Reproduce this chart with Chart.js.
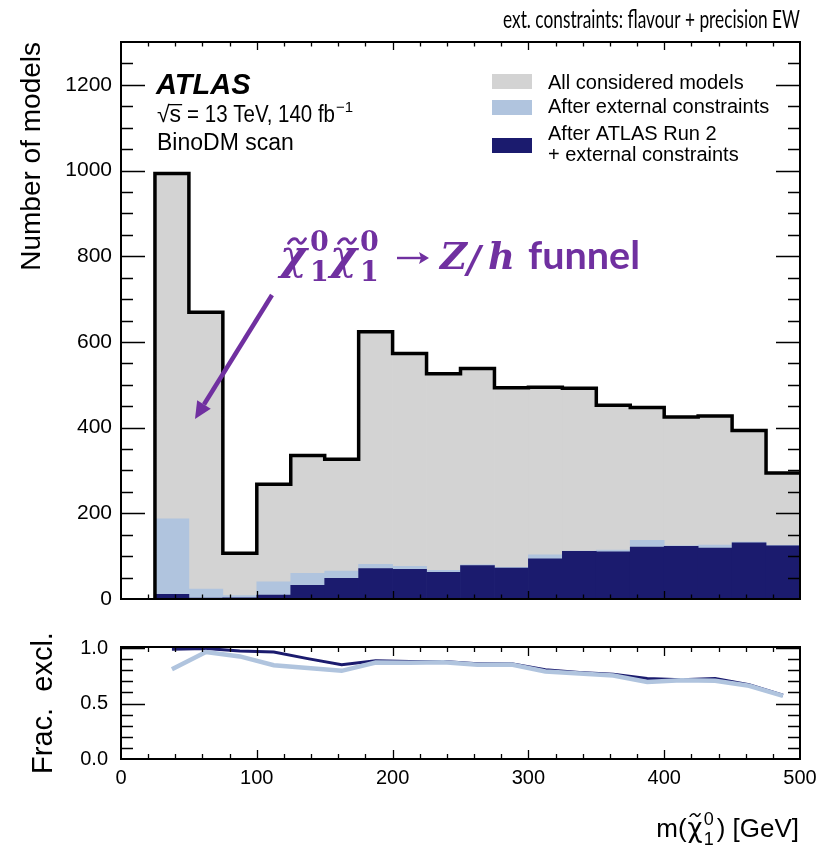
<!DOCTYPE html>
<html>
<head>
<meta charset="utf-8">
<script src="https://cdn.jsdelivr.net/npm/chart.js@4.4.1/dist/chart.umd.min.js"></script>
<style>
  html, body { margin: 0; padding: 0; background: #fff; }
  #wrap { position: relative; width: 823px; height: 849px; }
  #mainBox { position: absolute; left: 0; top: 0; width: 823px; height: 615px; }
  #ratioBox { position: absolute; left: 0; top: 615px; width: 823px; height: 234px; }
</style>
</head>
<body>
<div id="wrap">
  <div id="mainBox"><canvas id="main"></canvas></div>
  <div id="ratioBox"><canvas id="ratio"></canvas></div>
</div>
<script>
// Histogram bins: lower edges of the neutralino-mass bins [GeV]
const binLow = [25, 50, 75, 100, 125, 150, 175, 200, 225, 250, 275, 300, 325, 350, 375, 400, 425, 450, 475];
const binWidth = 25;

// Number of models per bin
const allModels     = [993, 669, 107, 268, 335, 326, 624, 573, 526, 538, 493, 494, 492, 452, 447, 425, 427, 393, 294];
const afterExternal = [187, 23, 8, 40, 60, 65, 81, 76, 67, 80, 74, 103, 112, 114, 137, 124, 126, 133, 125];
const afterRun2     = [11, 2, 3, 9, 32, 48, 71, 69, 62, 78, 72, 94, 111, 110, 121, 123, 119, 131, 124];

// Fraction of models excluded, per bin
const fracExclExternal = [0.81, 0.965, 0.925, 0.845, 0.82, 0.795, 0.87, 0.867, 0.872, 0.85, 0.852, 0.79, 0.772, 0.752, 0.695, 0.71, 0.705, 0.66, 0.57];
const fracExclRun2     = [0.99, 0.997, 0.975, 0.965, 0.905, 0.85, 0.885, 0.88, 0.88, 0.86, 0.86, 0.805, 0.78, 0.765, 0.725, 0.715, 0.725, 0.67, 0.575];

// Axis tick labels
const xTickValues = [0, 100, 200, 300, 400, 500];
const yTickValues = [0, 200, 400, 600, 800, 1000, 1200];
const ratioTickValues = [0, 0.5, 1.0];

const legendLabels = ['All considered models', 'After external constraints', 'After ATLAS Run 2', '+ external constraints'];

const COL_ALL = '#d3d3d3';
const COL_EXT = '#b0c4de';
const COL_RUN2 = '#1b1b6e';
const PURPLE = '#7030a0';
const SANS = '"Liberation Sans", Arial, Helvetica, sans-serif';
const HUMANIST = 'Lato, "Open Sans", sans-serif';
const SERIF = '"DejaVu Serif", serif';

// Wanted plot-area bottoms (canvas pixels) for the two panels
const MAIN_BOTTOM = 599;
const RATIO_BOTTOM = 144;
let mainAxisH = 16;
let ratioAxisH = 90;

const centers = binLow.map(v => v + binWidth / 2);
const asBars = vals => vals.map((v, i) => ({ x: centers[i], y: v }));
const last = binLow.length - 1;
const outline = [{ x: binLow[0], y: 0 }]
  .concat(allModels.map((v, i) => ({ x: binLow[i], y: v })))
  .concat([{ x: binLow[last] + binWidth, y: allModels[last] }]);

// Keeps tick labels from pushing the plot area around
function noScalePadding(s) {
  s.paddingTop = 0; s.paddingBottom = 0; s.paddingLeft = 0; s.paddingRight = 0;
}

// Frame with inward-pointing ticks on all four sides
function drawFrame(chart, spec) {
  const { ctx, chartArea: a } = chart;
  const xs = chart.scales.x, ys = chart.scales.y;
  ctx.save();
  ctx.strokeStyle = '#000';
  ctx.lineWidth = 1.3;
  ctx.beginPath();
  const nY = Math.round(spec.yMax / spec.yMinor);
  for (let k = 1; k <= nY; k++) {
    const v = k * spec.yMinor;
    if (v >= ys.max - 1e-9) break;
    const p = Math.round(ys.getPixelForValue(v)) + 0.5;
    const major = k % spec.yPerMajor === 0;
    const len = major ? spec.yMajorLen : spec.yMinorLen;
    ctx.moveTo(a.left, p); ctx.lineTo(a.left + len, p);
    ctx.moveTo(a.right, p); ctx.lineTo(a.right - len, p);
  }
  for (let k = 1; k < 25; k++) {
    const v = k * 20;
    const p = Math.round(xs.getPixelForValue(v)) + 0.5;
    const len = (v % 100 === 0) ? spec.xMajorLen : spec.xMinorLen;
    ctx.moveTo(p, a.bottom); ctx.lineTo(p, a.bottom - len);
    ctx.moveTo(p, a.top); ctx.lineTo(p, a.top + len);
  }
  ctx.stroke();
  ctx.lineWidth = 2;
  ctx.strokeRect(a.left, a.top, a.right - a.left, a.bottom - a.top);
  ctx.restore();
}

// Draws text squeezed/stretched horizontally to a given width
function fitText(ctx, text, x, y, width, align) {
  const w = ctx.measureText(text).width;
  const s = width / w;
  ctx.save();
  const x0 = align === 'right' ? x - width : x;
  ctx.translate(x0, y);
  ctx.scale(s, 1);
  ctx.textAlign = 'left';
  ctx.fillText(text, 0, 0);
  ctx.restore();
}

function tilde(ctx, cx, cy, w, h, lw) {
  ctx.save();
  ctx.lineWidth = lw;
  ctx.lineCap = 'round';
  ctx.beginPath();
  ctx.moveTo(cx - w / 2, cy + h / 2);
  ctx.bezierCurveTo(cx - w / 4, cy - h, cx, cy - h / 2, cx + w * 0.05, cy);
  ctx.bezierCurveTo(cx + w / 5, cy + h * 0.9, cx + w / 3, cy + h / 2, cx + w / 2, cy - h / 2);
  ctx.stroke();
  ctx.restore();
}

const mainDecor = {
  id: 'mainDecor',
  afterDraw(chart) {
    const ctx = chart.ctx;
    drawFrame(chart, { yMax: 1300, yMinor: 50, yPerMajor: 4, yMajorLen: 24, yMinorLen: 12, xMajorLen: 8, xMinorLen: 4.5 });
    ctx.save();
    ctx.fillStyle = '#000';
    ctx.textBaseline = 'alphabetic';

    // Heading above the frame
    ctx.font = '25px ' + HUMANIST;
    fitText(ctx, 'ext. constraints: flavour + precision EW', 800, 28, 297, 'right');

    // Experiment label
    ctx.font = 'italic bold 29px ' + SANS;
    ctx.fillText('ATLAS', 156, 94);
    ctx.font = '23px ' + SANS;
    let x = 157;
    const b2 = 122;
    ctx.fillText('\u221A', x, b2);
    const wr = ctx.measureText('\u221A').width;
    ctx.fillText('s', x + wr, b2);
    const ws = ctx.measureText('s').width;
    ctx.fillRect(x + wr - 1, b2 - 18, ws + 2, 1.3);
    x += wr + ws + 6;
    fitText(ctx, '= 13 TeV, 140 fb', x, b2, 335 - x, 'left');
    ctx.font = '15px ' + SANS;
    ctx.fillText('\u22121', 336, b2 - 10);
    ctx.font = '23px ' + SANS;
    ctx.fillText('BinoDM scan', 157, 150);

    // Legend
    const boxes = [[74, COL_ALL], [100, COL_EXT], [138, COL_RUN2]];
    boxes.forEach(([top, col]) => { ctx.fillStyle = col; ctx.fillRect(492, top, 40, 15); });
    ctx.fillStyle = '#000';
    ctx.font = '20px ' + SANS;
    ctx.fillText(legendLabels[0], 548, 89);
    ctx.fillText(legendLabels[1], 548, 113);
    ctx.fillText(legendLabels[2], 548, 140);
    ctx.fillText(legendLabels[3], 548, 161);

    // Funnel annotation
    ctx.fillStyle = PURPLE;
    ctx.strokeStyle = PURPLE;
    const base = 269;
    [280, 330].forEach(cx => {
      ctx.font = 'italic bold 41px ' + SERIF;
      ctx.fillText('\u03C7', cx, base);
      tilde(ctx, cx + 17, 241, 17, 4.5, 2.8);
      ctx.font = 'bold 27px ' + SERIF;
      ctx.fillText('0', cx + 30, 251);
      ctx.fillText('1', cx + 30, 281);
    });
    // arrow sign
    ctx.lineWidth = 2.4;
    ctx.beginPath();
    ctx.moveTo(397, 258); ctx.lineTo(426, 258);
    ctx.stroke();
    ctx.beginPath();
    ctx.moveTo(429, 258); ctx.lineTo(419, 252); ctx.lineTo(421, 258); ctx.lineTo(419, 264);
    ctx.closePath(); ctx.fill();
    ctx.font = 'italic bold 37px ' + SERIF;
    ctx.fillText('Z', 440, base);
    ctx.fillText('/', 467, base + 3);
    ctx.fillText('h', 488, base);
    ctx.font = 'bold 39px ' + HUMANIST;
    fitText(ctx, 'funnel', 528, base, 112, 'left');

    // Arrow pointing into the funnel bins
    const x1 = 272, y1 = 295, x2 = 195, y2 = 419;
    const ang = Math.atan2(y2 - y1, x2 - x1);
    const headL = 17, headW = 8;
    const bx = x2 - headL * Math.cos(ang), by = y2 - headL * Math.sin(ang);
    ctx.lineWidth = 4.5;
    ctx.lineCap = 'butt';
    ctx.beginPath();
    ctx.moveTo(x1, y1);
    ctx.lineTo(bx, by);
    ctx.stroke();
    ctx.beginPath();
    ctx.moveTo(x2, y2);
    ctx.lineTo(bx + headW * Math.sin(ang), by - headW * Math.cos(ang));
    ctx.lineTo(bx - headW * Math.sin(ang), by + headW * Math.cos(ang));
    ctx.closePath();
    ctx.fill();
    ctx.restore();
  }
};

const ratioDecor = {
  id: 'ratioDecor',
  afterDraw(chart) {
    const ctx = chart.ctx;
    drawFrame(chart, { yMax: 1.0, yMinor: 0.1, yPerMajor: 5, yMajorLen: 24, yMinorLen: 12, xMajorLen: 9, xMinorLen: 5 });
    // x-axis title: m(chi~_1^0) [GeV]
    ctx.save();
    ctx.fillStyle = '#000';
    ctx.strokeStyle = '#000';
    const base = 222;
    const big = '26px ' + SANS, small = '18px ' + SANS, greek = '26px "DejaVu Sans", sans-serif';
    ctx.font = big;
    const wA = ctx.measureText('m(').width;
    const wB = ctx.measureText(') [GeV]').width;
    ctx.font = greek;
    const wChi = ctx.measureText('\u03C7').width;
    ctx.font = small;
    const wIdx = ctx.measureText('0').width;
    let x = 800 - (wA + wChi + wIdx + 4 + wB + 2);
    ctx.font = big;
    ctx.fillText('m(', x, base); x += wA + 1;
    ctx.font = greek;
    ctx.fillText('\u03C7', x, base);
    tilde(ctx, x + wChi / 2, base - 22, 10, 2.6, 1.5);
    x += wChi;
    ctx.font = small;
    ctx.fillText('0', x + 1, base - 12);
    ctx.fillText('1', x + 1, base + 8);
    x += wIdx + 4;
    ctx.font = big;
    ctx.fillText(') [GeV]', x, base);
    ctx.restore();
  }
};

Chart.defaults.font.family = SANS;
Chart.defaults.color = '#000';

const mainChart = new Chart(document.getElementById('main'), {
  type: 'bar',
  data: {
    datasets: [
      { type: 'line', label: 'outline', data: outline, stepped: true, borderColor: '#000', borderWidth: 3.5,
        pointRadius: 0, fill: false, order: 0, borderJoinStyle: 'miter' },
      { label: legendLabels[2] + ' ' + legendLabels[3], data: asBars(afterRun2), backgroundColor: COL_RUN2, order: 1,
        grouped: false, barPercentage: 1, categoryPercentage: 1, borderWidth: 0 },
      { label: legendLabels[1], data: asBars(afterExternal), backgroundColor: COL_EXT, order: 2,
        grouped: false, barPercentage: 1, categoryPercentage: 1, borderWidth: 0 },
      { label: legendLabels[0], data: asBars(allModels), backgroundColor: COL_ALL, order: 3,
        grouped: false, barPercentage: 1, categoryPercentage: 1, borderWidth: 0 }
    ]
  },
  options: {
    responsive: true, maintainAspectRatio: false, animation: false, devicePixelRatio: 1,
    layout: { autoPadding: false, padding: { top: 42, right: 23, bottom: 0, left: 0 } },
    plugins: { legend: { display: false }, tooltip: { enabled: false } },
    scales: {
      x: { type: 'linear', min: 0, max: 500, offset: false,
           grid: { display: false, drawTicks: false }, border: { display: false },
           ticks: { display: false },
           afterFit(s) { s.height = mainAxisH; noScalePadding(s); } },
      y: { type: 'linear', min: 0, max: 1300,
           grid: { display: false, drawTicks: false, tickLength: 0 }, border: { display: false },
           afterBuildTicks(s) { s.ticks = yTickValues.map(v => ({ value: v })); },
           ticks: { font: { size: 21 }, color: '#000', padding: 9, callback: v => String(v) },
           title: { display: true, text: 'Number of models', align: 'end', color: '#000',
                    font: { size: 28 }, padding: { top: 15, bottom: 0 } },
           afterFit(s) { s.width = 121; noScalePadding(s); } }
    }
  },
  plugins: [mainDecor]
});

const ratioChart = new Chart(document.getElementById('ratio'), {
  type: 'line',
  data: {
    datasets: [
      { label: 'After ATLAS Run 2 + external constraints', data: fracExclRun2.map((v, i) => ({ x: centers[i], y: v })),
        borderColor: COL_RUN2, borderWidth: 3, pointRadius: 0, tension: 0, fill: false, order: 1 },
      { label: 'After external constraints', data: fracExclExternal.map((v, i) => ({ x: centers[i], y: v })),
        borderColor: COL_EXT, borderWidth: 4.5, pointRadius: 0, tension: 0, fill: false, order: 0 }
    ]
  },
  options: {
    responsive: true, maintainAspectRatio: false, animation: false, devicePixelRatio: 1,
    layout: { autoPadding: false, padding: { top: 32, right: 23, bottom: 0, left: 0 } },
    plugins: { legend: { display: false }, tooltip: { enabled: false } },
    scales: {
      x: { type: 'linear', min: 0, max: 500, offset: false,
           grid: { display: false, drawTicks: false, tickLength: 0 }, border: { display: false },
           afterBuildTicks(s) { s.ticks = xTickValues.map(v => ({ value: v })); },
           ticks: { font: { size: 20 }, color: '#000', padding: 7, maxRotation: 0, autoSkip: false },
           afterFit(s) { s.height = ratioAxisH; noScalePadding(s); } },
      y: { type: 'linear', min: 0, max: 1.01,
           grid: { display: false, drawTicks: false, tickLength: 0 }, border: { display: false },
           afterBuildTicks(s) { s.ticks = ratioTickValues.map(v => ({ value: v })); },
           ticks: { font: { size: 20 }, color: '#000', padding: 13, callback: v => Number(v).toFixed(1) },
           title: { display: true, text: 'Frac.  excl.', align: 'center', color: '#000',
                    font: { size: 29 }, padding: { top: 27, bottom: 0 } },
           afterFit(s) { s.width = 121; noScalePadding(s); } }
    }
  },
  plugins: [ratioDecor]
});

// Pin both plot areas to their intended bottoms
mainAxisH += mainChart.chartArea.bottom - MAIN_BOTTOM;
mainChart.update();
ratioAxisH += ratioChart.chartArea.bottom - RATIO_BOTTOM;
ratioChart.update();
</script>
</body>
</html>
